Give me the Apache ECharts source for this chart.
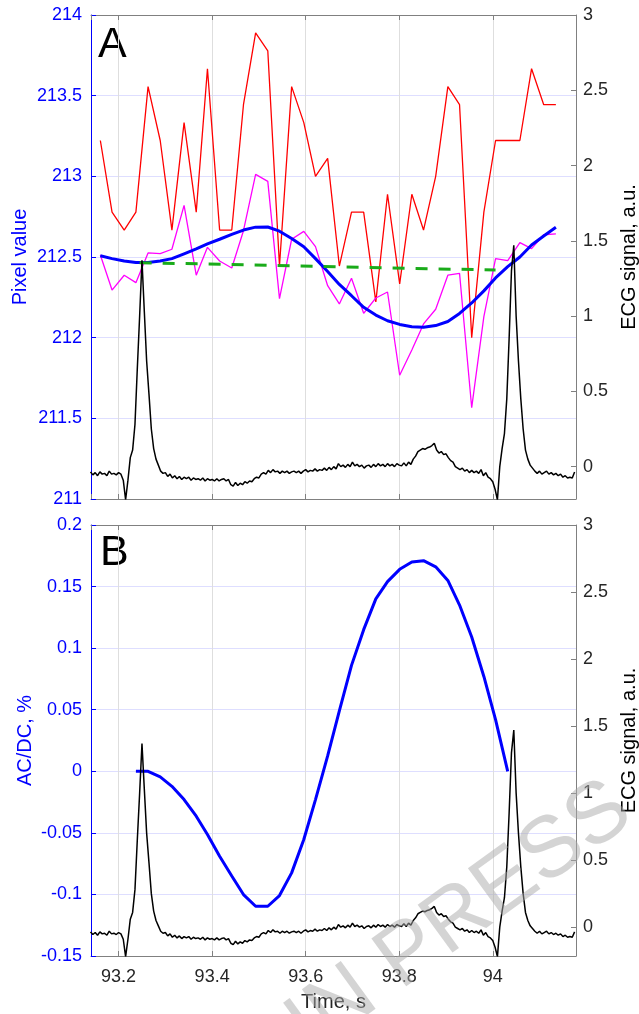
<!DOCTYPE html>
<html>
<head>
<meta charset="utf-8">
<script src="https://cdn.jsdelivr.net/npm/echarts@6.0.0/dist/echarts.min.js"></script>
<style>
html, body { margin: 0; padding: 0; background: #fff; }
#chart { width: 639px; height: 1014px; }
</style>
</head>
<body>
<div id="chart"></div>
<script>
// frame times (s) of the video samples
var frameTime = [93.161, 93.186, 93.212, 93.237, 93.263, 93.289, 93.314, 93.340, 93.366, 93.390,
    93.416, 93.442, 93.467, 93.493, 93.519, 93.544, 93.570, 93.596, 93.621, 93.647,
    93.672, 93.698, 93.724, 93.750, 93.775, 93.801, 93.827, 93.852, 93.878, 93.904,
    93.929, 93.955, 93.981, 94.006, 94.032, 94.058, 94.083, 94.109, 94.135];

// panel A, left axis
var rawPixel = [213.222, 212.778, 212.667, 212.778, 213.556, 213.222, 212.667, 213.333, 212.778, 213.667,
    212.667, 212.667, 213.444, 213.889, 213.778, 212.444, 213.556, 213.333, 213.000, 213.111,
    212.444, 212.778, 212.778, 212.222, 212.889, 212.333, 212.889, 212.667, 213.000, 213.556,
    213.444, 212.000, 212.778, 213.222, 213.222, 213.222, 213.667, 213.444, 213.444];
var avgPixel = [212.512, 212.295, 212.387, 212.341, 212.525, 212.521, 212.548, 212.820, 212.387, 212.560,
    212.475, 212.432, 212.663, 213.012, 212.969, 212.242, 212.610, 212.659, 212.564, 212.322,
    212.209, 212.368, 212.151, 212.246, 212.283, 211.767, 211.924, 212.085, 212.176, 212.387,
    212.399, 211.566, 212.130, 212.490, 212.477, 212.589, 212.552, 212.638, 212.643];
var fitPixel = [212.508, 212.490, 212.475, 212.466, 212.466, 212.475, 212.490, 212.520, 212.550, 212.581,
    212.610, 212.640, 212.667, 212.685, 212.686, 212.660, 212.615, 212.564, 212.490, 212.410,
    212.330, 212.260, 212.188, 212.140, 212.105, 212.082, 212.068, 212.064, 212.075, 212.100,
    212.150, 212.215, 212.290, 212.370, 212.440, 212.500, 212.574, 212.630, 212.684];
var dcTime = [93.245, 94.006];
var dcLevel = [212.465, 212.419];

// panel B, left axis
var acdcTime = frameTime.slice(3, 35);
var acdc = [0.0, 0.0, -0.0046, -0.0122, -0.0230, -0.0365, -0.0514, -0.0690, -0.0850, -0.1001,
    -0.1096, -0.1096, -0.1009, -0.0825, -0.0554, -0.0230, 0.0125, 0.0490, 0.0860, 0.1150,
    0.1400, 0.1540, 0.1640, 0.1700, 0.1710, 0.1660, 0.1550, 0.1350, 0.1090, 0.0770,
    0.0420, 0.0];

// ECG (right axes), sampled every ecgStep from ecgStart
var ecgStart = 93.140;
var ecgStep = 0.005;
var ecg = [-0.035, -0.055, -0.040, -0.060, -0.035, -0.050, -0.045, -0.060, -0.030, -0.050,
    -0.045, -0.055, -0.040, -0.050, -0.090, -0.220, -0.090, 0.060, 0.110, 0.280,
    0.650, 1.000, 1.370, 1.030, 0.700, 0.480, 0.250, 0.120, 0.050, 0.010,
    -0.030, -0.045, -0.040, -0.065, -0.050, -0.075, -0.060, -0.080, -0.065, -0.085,
    -0.070, -0.080, -0.070, -0.090, -0.075, -0.085, -0.080, -0.090, -0.075, -0.095,
    -0.080, -0.090, -0.085, -0.095, -0.080, -0.095, -0.085, -0.080, -0.095, -0.085,
    -0.120, -0.130, -0.105, -0.125, -0.110, -0.120, -0.100, -0.110, -0.095, -0.100,
    -0.080, -0.070, -0.075, -0.050, -0.040, -0.050, -0.025, -0.040, -0.020, -0.035,
    -0.030, -0.045, -0.030, -0.040, -0.030, -0.045, -0.035, -0.030, -0.040, -0.030,
    -0.045, -0.030, -0.020, -0.035, -0.025, -0.030, -0.015, -0.030, -0.020, -0.025,
    -0.010, -0.025, -0.005, -0.020, 0.000, -0.015, 0.020, 0.000, 0.010, -0.005,
    0.015, 0.000, 0.030, 0.005, 0.015, 0.000, 0.010, -0.010, 0.005, 0.010,
    -0.005, 0.015, 0.000, 0.020, 0.005, 0.015, 0.000, 0.020, 0.005, 0.015,
    0.000, 0.020, 0.010, 0.005, 0.025, 0.005, 0.030, 0.015, 0.050, 0.070,
    0.100, 0.110, 0.120, 0.115, 0.125, 0.130, 0.140, 0.155, 0.110, 0.090,
    0.100, 0.080, 0.085, 0.060, 0.040, 0.030, 0.000, -0.010, -0.020, -0.010,
    -0.030, -0.020, -0.040, -0.025, -0.040, -0.030, -0.045, -0.020, -0.060, -0.040,
    -0.070, -0.080, -0.100, -0.150, -0.220, 0.000, 0.120, 0.220, 0.450, 0.850,
    1.300, 1.470, 1.000, 0.700, 0.450, 0.250, 0.110, 0.050, 0.010, -0.010,
    -0.030, -0.045, -0.030, -0.050, -0.040, -0.030, -0.050, -0.040, -0.055, -0.045,
    -0.060, -0.050, -0.070, -0.060, -0.075, -0.070, -0.075, -0.035];

var xMin = 93.141, xMax = 94.178;
var FONT = '"Liberation Sans", Arial, sans-serif';
var BLUE = '#0000ff', DARK = '#262626', FRAME = '#808080';

function pairs(xs, ys) {
    var out = [];
    for (var i = 0; i < ys.length; i++) out.push([xs[i], ys[i]]);
    return out;
}
var ecgData = [];
for (var i = 0; i < ecg.length; i++) {
    ecgData.push([+(ecgStart + i * ecgStep).toFixed(3), ecg[i]]);
}

function xAxis(grid, pos, labels) {
    return {
        type: 'value', gridIndex: grid, position: pos, min: xMin, max: xMax,
        axisLine: { show: true, onZero: false, lineStyle: { color: FRAME, width: 1 } },
        axisTick: { show: true, inside: true, length: 5, lineStyle: { color: FRAME } },
        axisLabel: labels ? { show: true, fontSize: 18, color: DARK, fontFamily: FONT, margin: 12,
            showMinLabel: false, showMaxLabel: false } : { show: false },
        splitLine: { show: pos === 'bottom', lineStyle: { color: '#dedede', width: 1 } }
    };
}
function leftAxis(grid, min, max, step, name, gap) {
    return {
        type: 'value', gridIndex: grid, position: 'left', min: min, max: max, interval: step,
        name: name, nameLocation: 'middle', nameGap: gap, nameRotate: 90, nameMoveOverlap: false,
        nameTextStyle: { color: BLUE, fontSize: 20, fontFamily: FONT },
        axisLine: { show: true, onZero: false, lineStyle: { color: BLUE, width: 1 } },
        axisTick: { show: true, inside: true, length: 5, lineStyle: { color: BLUE } },
        axisLabel: { color: BLUE, fontSize: 18, fontFamily: FONT, margin: 9 },
        splitLine: { show: true, lineStyle: { color: 'rgba(0,0,255,0.13)', width: 1 } }
    };
}
function rightAxis(grid) {
    return {
        type: 'value', gridIndex: grid, position: 'right', min: -0.215, max: 3,
        name: 'ECG signal, a.u.', nameLocation: 'middle', nameGap: 43, nameRotate: 90,
        nameMoveOverlap: false,
        nameTextStyle: { color: '#000', fontSize: 20, fontFamily: FONT },
        axisLine: { show: true, onZero: false, lineStyle: { color: FRAME, width: 1 } },
        axisTick: { show: true, inside: true, length: 5, lineStyle: { color: FRAME } },
        axisLabel: { color: DARK, fontSize: 18, fontFamily: FONT, margin: 7, showMinLabel: false },
        splitLine: { show: false }
    };
}
function line(xi, yi, data, color, width, dash) {
    return {
        type: 'line', xAxisIndex: xi, yAxisIndex: yi, data: data, symbol: 'none',
        lineStyle: { color: color, width: width, type: dash || 'solid' }
    };
}

var chart = echarts.init(document.getElementById('chart'));
chart.setOption({
    animation: false,
    backgroundColor: '#fff',
    grid: [
        { left: 91, top: 15, width: 485, height: 484, outerBoundsMode: 'none' },
        { left: 91, top: 525, width: 485, height: 431, outerBoundsMode: 'none' }
    ],
    xAxis: [
        xAxis(0, 'bottom', false),
        xAxis(0, 'top', false),
        Object.assign(xAxis(1, 'bottom', true), {
            name: 'Time, s', nameLocation: 'middle', nameGap: 36,
            nameTextStyle: { color: DARK, fontSize: 20, fontFamily: FONT }
        }),
        xAxis(1, 'top', false)
    ],
    yAxis: [
        leftAxis(0, 211, 214, 0.5, 'Pixel value', 61),
        rightAxis(0),
        leftAxis(1, -0.15, 0.2, 0.05, 'AC/DC, %', 56),
        rightAxis(1)
    ],
    series: [
        line(0, 0, pairs(frameTime, rawPixel), '#ff0000', 1.3),
        line(0, 0, pairs(frameTime, avgPixel), '#ff00ff', 1.3),
        line(0, 0, pairs(frameTime, fitPixel), '#0000ff', 3),
        line(0, 0, pairs(dcTime, dcLevel), '#1aab1a', 3, [12, 11]),
        line(0, 1, ecgData, '#000000', 1.5),
        line(2, 2, pairs(acdcTime, acdc), '#0000ff', 3),
        line(2, 3, ecgData, '#000000', 1.5)
    ],
    graphic: [
        { type: 'text', left: 98, top: 24, style: { text: 'A', font: '43px ' + FONT, fill: '#000' } },
        { type: 'text', left: 100, top: 532, style: { text: 'B', font: '43px ' + FONT, fill: '#000' } },
        { type: 'text', x: 460, y: 918, rotation: 36 * Math.PI / 180, z: 100,
          style: { text: 'IN PRESS', font: '86px ' + FONT, fill: 'rgba(170,170,170,0.5)',
                   align: 'center', verticalAlign: 'middle' } }
    ]
});
</script>
</body>
</html>
